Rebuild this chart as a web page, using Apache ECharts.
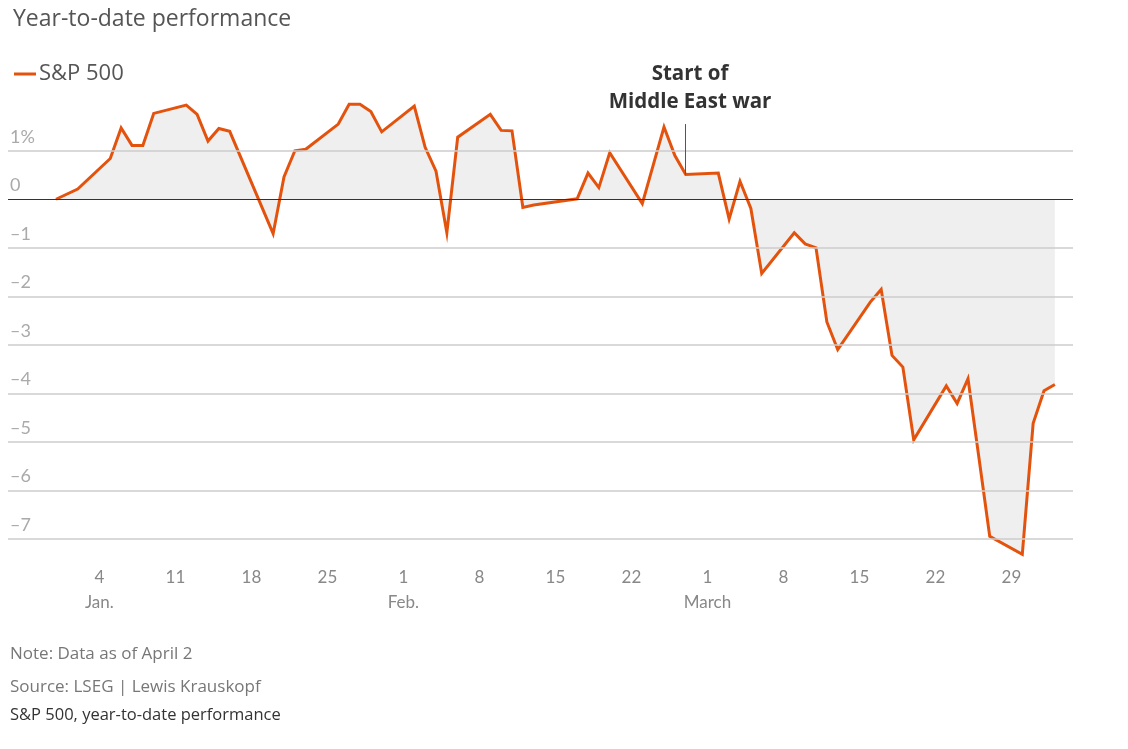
<!DOCTYPE html>
<html>
<head>
<meta charset="utf-8">
<script src="https://cdn.jsdelivr.net/npm/echarts@6/dist/echarts.min.js"></script>
<style>
html,body{margin:0;padding:0;background:#fff;}
#main{width:1128px;height:749px;}
</style>
</head>
<body>
<div id="main"></div>
<script>
// ---- data ----
const dates = [
 '2025-12-31','2026-01-02','2026-01-05','2026-01-06','2026-01-07','2026-01-08','2026-01-09',
 '2026-01-12','2026-01-13','2026-01-14','2026-01-15','2026-01-16',
 '2026-01-20','2026-01-21','2026-01-22','2026-01-23',
 '2026-01-26','2026-01-27','2026-01-28','2026-01-29','2026-01-30',
 '2026-02-02','2026-02-03','2026-02-04','2026-02-05','2026-02-06',
 '2026-02-09','2026-02-10','2026-02-11','2026-02-12','2026-02-13',
 '2026-02-17','2026-02-18','2026-02-19','2026-02-20',
 '2026-02-23','2026-02-24','2026-02-25','2026-02-26','2026-02-27',
 '2026-03-02','2026-03-03','2026-03-04','2026-03-05','2026-03-06',
 '2026-03-09','2026-03-10','2026-03-11','2026-03-12','2026-03-13',
 '2026-03-16','2026-03-17','2026-03-18','2026-03-19','2026-03-20',
 '2026-03-23','2026-03-24','2026-03-25','2026-03-26','2026-03-27',
 '2026-03-30','2026-03-31','2026-04-01','2026-04-02'
];
const sp500 = [
 0, 0.21, 0.84, 1.47, 1.11, 1.11, 1.77,
 1.94, 1.75, 1.20, 1.46, 1.40,
 -0.71, 0.46, 1.00, 1.03,
 1.55, 1.96, 1.96, 1.81, 1.39,
 1.92, 1.07, 0.58, -0.69, 1.28,
 1.75, 1.42, 1.41, -0.17, -0.12,
 0.01, 0.54, 0.24, 0.96,
 -0.09, 0.70, 1.49, 0.90, 0.51,
 0.54, -0.41, 0.37, -0.19, -1.53,
 -0.69, -0.92, -1.00, -2.53, -3.10,
 -2.12, -1.86, -3.22, -3.46, -4.96,
 -3.85, -4.21, -3.70, -5.32, -6.95,
 -7.32, -4.62, -3.95, -3.82
];
const xTickDates = ['2026-01-04','2026-01-11','2026-01-18','2026-01-25','2026-02-01','2026-02-08',
 '2026-02-15','2026-02-22','2026-03-01','2026-03-08','2026-03-15','2026-03-22','2026-03-29'];
const xTickLabels = ['4\nJan.','11','18','25','1\nFeb.','8','15','22','1\nMarch','8','15','22','29'];
const yTickValues = [1,0,-1,-2,-3,-4,-5,-6,-7];
const yTickLabels = ['1%','0','\u20131','\u20132','\u20133','\u20134','\u20135','\u20136','\u20137'];
const warDate = '2026-02-27';
const warTop = 1.55;

// ---- helpers ----
const base = Date.UTC(2025,11,31);
const dayOf = s => { const p = s.split('-').map(Number); return (Date.UTC(p[0],p[1]-1,p[2]) - base)/86400000; };
const pts = dates.map((d,i)=>[dayOf(d), sp500[i]]);
const tickX = xTickDates.map(dayOf);
const labelMap = {}; tickX.forEach((v,i)=>labelMap[v]=xTickLabels[i]);
const warX = dayOf(warDate);
const warVal = sp500[dates.indexOf(warDate)];

const FONT = '"Open Sans"';
const AXFONT = 'Lato';
const chart = echarts.init(document.getElementById('main'), null, {renderer:'canvas'});
chart.setOption({
  animation:false,
  backgroundColor:'#fff',
  textStyle:{fontFamily:FONT},
  title:{text:'Year-to-date performance', left:8, top:3,
    textStyle:{fontFamily:FONT, fontSize:23, fontWeight:'normal', color:'#555'}},
  legend:{data:['S&P 500'], left:9, top:58, icon:'rect', itemWidth:22, itemHeight:3, itemGap:10,
    textStyle:{fontFamily:FONT, fontSize:22, color:'#555', padding:[0,0,0,-2]}},
  grid:{left:8, right:55, top:78, bottom:186, containLabel:false},
  xAxis:{type:'value', min:-4.42, max:93.67,
    axisLine:{show:false}, axisTick:{show:false}, splitLine:{show:false},
    axisLabel:{customValues:tickX, formatter:v=>labelMap[v]||'', margin:2,
      fontFamily:AXFONT, fontSize:17, color:'#888', lineHeight:25}},
  yAxis:{type:'value', min:-7.5, max:2.5,
    axisLine:{show:false}, axisTick:{show:false}, splitLine:{show:false}, axisLabel:{show:false}},
  graphic:[
    {type:'text', x:690, y:60, style:{text:'Start of\nMiddle East war', align:'center',
      font:'bold 20.5px '+FONT, fill:'#333', lineHeight:28}},
    {type:'text', x:10, y:646, style:{text:'Note: Data as of April 2', font:'17px '+FONT, fill:'#777'}},
    {type:'text', x:10, y:679, style:{text:'Source: LSEG | Lewis Krauskopf', font:'17px '+FONT, fill:'#777'}},
    {type:'text', x:10, y:707, style:{text:'S&P 500, year-to-date performance', font:'16.5px '+FONT, fill:'#333'}}
  ],
  series:[
    {name:'fill', type:'line', data:pts, z:1, symbol:'none', silent:true,
      lineStyle:{width:0}, areaStyle:{color:'#efefef', opacity:1, origin:0}},
    {name:'grid', type:'line', data:[], z:2, silent:true,
      markLine:{silent:true, symbol:'none', animation:false,
        lineStyle:{type:'solid', color:'#cccccc', width:1.5},
        label:{show:true, position:'insideStartTop', distance:[2,5], fontFamily:AXFONT, fontSize:18, color:'#aaa'},
        data: yTickValues.map((v,i)=>({yAxis:v, label:{formatter:yTickLabels[i]},
          lineStyle: v===0 ? {color:'#333', width:1.2} : undefined}))}},
    {name:'S&P 500', type:'line', data:pts, z:3, symbol:'none',
      lineStyle:{color:'#e4530e', width:3, join:'miter'}, itemStyle:{color:'#e4530e'},
      markLine:{silent:true, symbol:'none', animation:false, label:{show:false},
        lineStyle:{type:'solid', color:'#555', width:1},
        data:[[{coord:[warX, warTop]},{coord:[warX, warVal]}]]}}
  ]
});
</script>
</body>
</html>
